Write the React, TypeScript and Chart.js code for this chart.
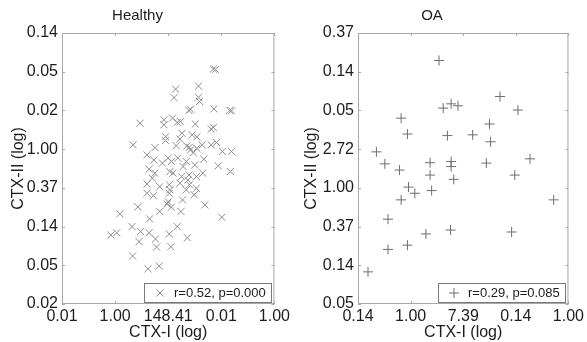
import React, { useEffect, useRef } from "react";
import { Chart, registerables } from "chart.js";
Chart.register(...registerables);

// ---------- data ----------
const healthyXTicks = ["0.01", "1.00", "148.41", "0.01", "1.00"];
const healthyYTicks = ["0.02", "0.05", "0.14", "0.37", "1.00", "0.02", "0.05", "0.14"];
const oaXTicks = ["0.14", "1.00", "7.39", "0.14", "1.00"];
const oaYTicks = ["0.05", "0.14", "0.37", "1.00", "2.72", "0.05", "0.14", "0.37"];

const healthyX = [
  2.85, 2.89, 2.14, 2.57, 2.11, 2.57, 2.59, 2.86, 3.16, 3.19, 2.39, 2.42, 1.47, 1.92, 1.92, 2.08,
  2.17, 2.23, 2.51, 2.81, 2.85, 1.95, 1.95, 2.26, 2.45, 2.54, 2.22, 1.34, 1.75, 2.15, 2.35, 2.40,
  2.64, 2.81, 2.91, 2.42, 2.47, 2.54, 3.02, 3.19, 1.60, 1.73, 1.89, 2.00, 2.06, 2.18, 2.34, 2.67,
  2.50, 2.28, 2.94, 1.64, 1.75, 1.70, 2.03, 2.09, 2.25, 2.39, 2.53, 2.65, 3.17, 1.60, 1.84, 2.02,
  2.03, 2.22, 2.37, 2.40, 2.34, 2.53, 2.49, 1.60, 1.72, 2.02, 2.27, 2.00, 1.98, 2.06, 1.43, 1.84,
  2.24, 2.69, 1.09, 1.65, 3.01, 1.32, 1.48, 1.64, 2.17, 0.92, 1.03, 2.02, 1.76, 1.45, 2.36, 1.78,
  2.05, 1.33, 1.62, 1.83,
];
const healthyY = [
  6.07, 6.06, 5.55, 5.63, 5.33, 5.34, 5.23, 5.04, 5.00, 4.99, 5.00, 5.03, 4.67, 4.76, 4.63, 4.80,
  4.69, 4.71, 4.65, 4.52, 4.56, 4.32, 4.22, 4.41, 4.37, 4.32, 4.26, 4.11, 4.04, 4.09, 4.08, 4.05,
  4.11, 4.11, 4.17, 3.98, 3.91, 4.02, 3.94, 3.94, 3.85, 3.72, 3.64, 3.77, 3.68, 3.77, 3.68, 3.74,
  3.59, 3.55, 3.57, 3.48, 3.38, 3.25, 3.42, 3.38, 3.29, 3.33, 3.29, 3.38, 3.42, 3.10, 3.03, 3.08,
  2.95, 3.12, 3.20, 3.08, 2.95, 2.99, 2.82, 2.86, 2.80, 2.86, 2.69, 2.64, 2.58, 2.50, 2.51, 2.39,
  2.39, 2.56, 2.33, 2.20, 2.24, 2.00, 1.87, 1.84, 2.00, 1.78, 1.84, 1.81, 1.68, 1.61, 1.71, 1.47,
  1.48, 1.24, 0.91, 0.98,
];

const oaX = [
  1.54, 1.62, 1.77, 1.90, 2.70, 3.04, 0.82, 0.94, 1.70, 2.18, 2.50, 2.52, 0.35, 3.27, 0.51, 0.79,
  1.37, 1.37, 1.77, 1.77, 1.82, 2.44, 2.98, 0.96, 1.08, 1.40, 0.82, 3.72, 0.57, 1.76, 1.29, 2.92,
  0.57, 0.94, 0.19,
];
const oaY = [
  6.29, 5.06, 5.17, 5.12, 5.36, 5.01, 4.80, 4.39, 4.35, 4.37, 4.65, 4.19, 3.93, 3.75, 3.62, 3.46,
  3.65, 3.33, 3.68, 3.55, 3.22, 3.64, 3.33, 3.02, 2.86, 2.93, 2.69, 2.69, 2.19, 1.91, 1.81, 1.86,
  1.41, 1.52, 0.83,
];

const FONT = '"Liberation Sans", Arial, sans-serif';
const TEXT = "#1c1c1c";

type PanelProps = {
  title: string;
  xs: number[];
  ys: number[];
  xTicks: string[];
  yTicks: string[];
  legend: string;
  marker: "crossRot" | "cross";
  color: string;
  width: number;
  left: number;
  yAxisWidth: number;
  padRight: number;
};

function Panel(p: PanelProps) {
  const ref = useRef<HTMLCanvasElement | null>(null);
  useEffect(() => {
    if (!ref.current) return;
    const frame = {
      id: "frame",
      afterDatasetsDraw(chart: any) {
        const { ctx, chartArea: a, scales } = chart;
        ctx.save();
        ctx.strokeStyle = "#a8a8a8";
        ctx.lineWidth = 1;
        ctx.strokeRect(a.left + 0.5, a.top + 0.5, a.right - a.left - 1, a.bottom - a.top - 1);
        const tl = 3;
        ctx.beginPath();
        scales.x.ticks.forEach((t: any) => {
          const px = Math.round(scales.x.getPixelForValue(t.value)) + 0.5;
          ctx.moveTo(px, a.top);
          ctx.lineTo(px, a.top + tl);
          ctx.moveTo(px, a.bottom);
          ctx.lineTo(px, a.bottom - tl);
        });
        scales.y.ticks.forEach((t: any) => {
          const py = Math.round(scales.y.getPixelForValue(t.value)) + 0.5;
          ctx.moveTo(a.left, py);
          ctx.lineTo(a.left + tl, py);
          ctx.moveTo(a.right, py);
          ctx.lineTo(a.right - tl, py);
        });
        ctx.stroke();
        // legend box
        ctx.font = `13px ${FONT}`;
        const tw = ctx.measureText(p.legend).width;
        const h = 19;
        const w = 30 + tw + 5;
        const right = a.right - 4;
        const bottom = a.bottom - 2;
        const lx = Math.round(right - w);
        const ly = Math.round(bottom - h);
        ctx.fillStyle = "#ffffff";
        ctx.fillRect(lx, ly, w, h);
        ctx.strokeStyle = "#7a7a7a";
        ctx.strokeRect(lx + 0.5, ly + 0.5, Math.round(w), h);
        // marker
        const mx = lx + 16;
        const my = ly + h / 2 + 0.5;
        ctx.strokeStyle = p.color;
        ctx.beginPath();
        if (p.marker === "crossRot") {
          const o = 5 * Math.SQRT1_2;
          ctx.moveTo(mx - o, my - o);
          ctx.lineTo(mx + o, my + o);
          ctx.moveTo(mx - o, my + o);
          ctx.lineTo(mx + o, my - o);
        } else {
          ctx.moveTo(mx - 5, my);
          ctx.lineTo(mx + 5, my);
          ctx.moveTo(mx, my - 5);
          ctx.lineTo(mx, my + 5);
        }
        ctx.stroke();
        ctx.fillStyle = TEXT;
        ctx.textBaseline = "middle";
        ctx.textAlign = "left";
        ctx.fillText(p.legend, lx + 30, ly + h / 2 + 1);
        ctx.restore();
      },
    };
    const chart = new Chart(ref.current, {
      type: "scatter",
      data: {
        datasets: [
          {
            label: p.legend,
            data: p.xs.map((x, i) => ({ x, y: p.ys[i] })),
            pointStyle: p.marker,
            radius: 5,
            hoverRadius: 5,
            borderWidth: 1,
            borderColor: p.color,
            backgroundColor: p.color,
          },
        ],
      },
      options: {
        responsive: false,
        animation: false,
        devicePixelRatio: 1,
        events: [],
        layout: { padding: { left: 0, right: p.padRight, top: 0, bottom: 0 } },
        plugins: {
          legend: { display: false },
          tooltip: { enabled: false },
          title: {
            display: true,
            text: p.title,
            color: TEXT,
            font: { size: 15, family: FONT, weight: "normal", lineHeight: 1.2 },
            padding: { top: 7, bottom: 8 },
          },
        },
        scales: {
          x: {
            type: "linear",
            min: 0,
            max: p.xTicks.length - 1,
            afterFit: (s: any) => {
              s.height = 38;
            },
            grid: { display: false, drawTicks: false },
            border: { display: false },
            ticks: {
              stepSize: 1,
              padding: 3,
              autoSkip: false,
              maxRotation: 0,
              color: TEXT,
              font: { size: 16, family: FONT },
              callback: (v: any) => p.xTicks[Math.round(Number(v))] ?? "",
            },
            title: {
              display: true,
              text: "CTX-I (log)",
              color: TEXT,
              font: { size: 16, family: FONT, lineHeight: 1.2 },
              padding: { top: 0, bottom: 0 },
            },
          },
          y: {
            type: "linear",
            min: 0,
            max: p.yTicks.length - 1,
            afterFit: (s: any) => {
              s.width = p.yAxisWidth;
            },
            grid: { display: false, drawTicks: false },
            border: { display: false },
            ticks: {
              stepSize: 1,
              padding: 4,
              autoSkip: false,
              color: TEXT,
              font: { size: 16, family: FONT },
              callback: (v: any) => p.yTicks[Math.round(Number(v))] ?? "",
            },
            title: {
              display: true,
              text: "CTX-II (log)",
              color: TEXT,
              font: { size: 16, family: FONT, lineHeight: 1.2 },
              padding: { top: 9, bottom: 0 },
            },
          },
        },
      },
      plugins: [frame],
    } as any);
    return () => chart.destroy();
  }, []);
  return (
    <canvas
      ref={ref}
      width={p.width}
      height={342}
      style={{ position: "absolute", left: p.left, top: 0, width: p.width, height: 342 }}
    />
  );
}

export default function App() {
  return (
    <div style={{ position: "absolute", left: 0, top: 0, width: 587, height: 342, background: "#fff" }}>
      <Panel
        title="Healthy"
        xs={healthyX}
        ys={healthyY}
        xTicks={healthyXTicks}
        yTicks={healthyYTicks}
        legend="r=0.52, p=0.000"
        marker="crossRot"
        color="#8c8c8c"
        width={293}
        left={0}
        yAxisWidth={62}
        padRight={18}
      />
      <Panel
        title="OA"
        xs={oaX}
        ys={oaY}
        xTicks={oaXTicks}
        yTicks={oaYTicks}
        legend="r=0.29, p=0.085"
        marker="cross"
        color="#6e6e6e"
        width={294}
        left={293}
        yAxisWidth={65}
        padRight={16}
      />
    </div>
  );
}
